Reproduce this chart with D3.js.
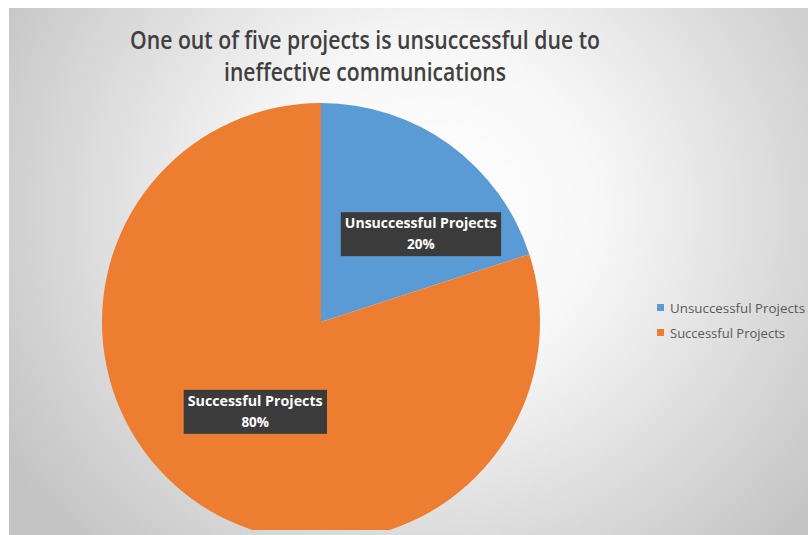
<!DOCTYPE html>
<html>
<head>
<meta charset="utf-8">
<script src="https://cdn.jsdelivr.net/npm/d3@7"></script>
<style>
  html, body { margin: 0; padding: 0; background: #ffffff; }
  svg { display: block; }
</style>
</head>
<body>
<svg id="chart" width="808" height="535"></svg>
<script>
// Chart data
const categories = ["Unsuccessful Projects", "Successful Projects"];
const values = [20, 80];
const valueLabels = ["20%", "80%"];
const colors = ["#5b9bd5", "#ed7d31"];
const titleLines = ["One out of five projects is unsuccessful due to", "ineffective communications"];

const W = 808, H = 535;
const svg = d3.select("#chart");

// Plot area with soft radial background
const defs = svg.append("defs");
const grad = defs.append("radialGradient")
  .attr("id", "bg")
  .attr("gradientUnits", "userSpaceOnUse")
  .attr("cx", 430).attr("cy", 210).attr("r", 470)
  .attr("gradientTransform", "translate(430,210) scale(1.05,1) translate(-430,-210)");
grad.append("stop").attr("offset", "0%").attr("stop-color", "#ffffff");
grad.append("stop").attr("offset", "35%").attr("stop-color", "#f7f7f7");
grad.append("stop").attr("offset", "100%").attr("stop-color", "#c4c4c4");

const frame = { x: 9, y: 8, w: W - 9, h: H - 8 };
svg.append("rect")
  .attr("x", frame.x).attr("y", frame.y)
  .attr("width", frame.w).attr("height", frame.h)
  .attr("fill", "url(#bg)");

defs.append("clipPath").attr("id", "frameClip")
  .append("rect")
  .attr("x", frame.x).attr("y", frame.y)
  .attr("width", frame.w).attr("height", frame.h - 5);

// Title (condensed to a Calibri-like set width)
const titleWidths = [470, 282];
titleLines.forEach((t, i) => {
  svg.append("text")
    .attr("x", 365)
    .attr("y", 49 + i * 32)
    .attr("text-anchor", "middle")
    .attr("font-family", "'Open Sans', sans-serif")
    .attr("font-size", 25.5)
    .attr("font-weight", 600)
    .attr("fill", "#404040")
    .attr("textLength", titleWidths[i])
    .attr("lengthAdjust", "spacingAndGlyphs")
    .text(t);
});

// Pie
const cx = 321, cy = 322, radius = 219;
const pie = d3.pie().sort(null).value(d => d)(values);
const arc = d3.arc().innerRadius(0).outerRadius(radius);

const g = svg.append("g")
  .attr("clip-path", "url(#frameClip)")
  .append("g")
  .attr("transform", `translate(${cx},${cy})`);

g.selectAll("path.slice")
  .data(pie)
  .join("path")
  .attr("class", "slice")
  .attr("d", arc)
  .attr("fill", (d, i) => colors[i])
  .attr("stroke", "none");

// Data labels: position relative to each slice's centroid
const labelArc = d3.arc().innerRadius(radius * 0.62).outerRadius(radius * 0.62);
const labelShift = [[20, 21], [14, -21]];
const lbl = svg.append("g").attr("transform", `translate(${cx},${cy})`);

pie.forEach((d, i) => {
  const c = labelArc.centroid(d);
  const lx = c[0] + labelShift[i][0];
  const ly = c[1] + labelShift[i][1];
  const grp = lbl.append("g").attr("transform", `translate(${lx},${ly})`);
  const txt = grp.append("text")
    .attr("text-anchor", "middle")
    .attr("font-family", "'Open Sans', sans-serif")
    .attr("font-size", 13.5)
    .attr("font-weight", 700)
    .attr("fill", "#ffffff");
  txt.append("tspan").attr("x", 0).attr("y", -5).text(categories[i])
    .attr("textLength", i === 0 ? 152 : 135).attr("lengthAdjust", "spacingAndGlyphs");
  txt.append("tspan").attr("x", 0).attr("y", 16).text(valueLabels[i]);
  const bb = txt.node().getBBox();
  grp.insert("rect", "text")
    .attr("x", bb.x - 4).attr("y", -21)
    .attr("width", bb.width + 8).attr("height", 44)
    .attr("fill", "#3b3b3b");
});

// Legend
const legend = svg.append("g").attr("transform", "translate(657,308)");
categories.forEach((c, i) => {
  const row = legend.append("g").attr("transform", `translate(0,${i * 25})`);
  row.append("rect")
    .attr("x", 0).attr("y", -4)
    .attr("width", 7).attr("height", 7)
    .attr("fill", colors[i]);
  row.append("text")
    .attr("x", 13).attr("y", 4.5)
    .attr("font-family", "'Open Sans', sans-serif")
    .attr("font-size", 12.5)
    .attr("fill", "#595959")
    .attr("textLength", i === 0 ? 135 : 115)
    .attr("lengthAdjust", "spacingAndGlyphs")
    .text(c);
});
</script>
</body>
</html>
